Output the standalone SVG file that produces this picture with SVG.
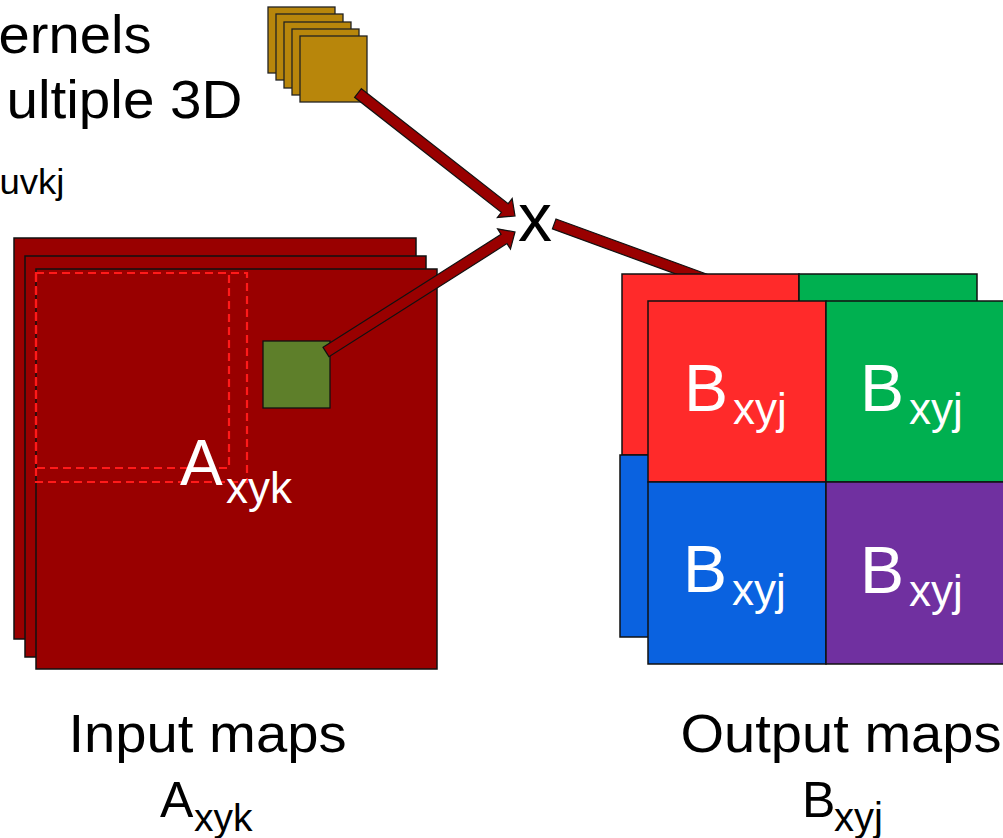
<svg xmlns="http://www.w3.org/2000/svg" width="1003" height="838" viewBox="0 0 1003 838">
<defs>
<style>
text{font-family:"Liberation Sans",Arial,sans-serif}
.lbl{fill:#000}
.wt{fill:#fff}
.kern{fill:#B8860B;stroke:#222;stroke-width:1.3}
.inmap{fill:#990000;stroke:#111;stroke-width:1.5}
.dash{fill:none;stroke:#FF1A1A;stroke-width:2.2;stroke-dasharray:8 5}
.conn{fill:#990000;stroke:#111;stroke-width:1.2;stroke-linejoin:miter}
.cell{stroke:#111;stroke-width:1.5}
</style>
</defs>
<rect x="0" y="0" width="1003" height="838" fill="#fff"/>

<g id="title-text">
<text class="lbl" x="-1.5" y="53" font-size="53" textLength="153" lengthAdjust="spacingAndGlyphs">ernels</text>
<text class="lbl" x="6.5" y="118" font-size="53" textLength="236" lengthAdjust="spacingAndGlyphs">ultiple 3D</text>
<text class="lbl" x="-0.5" y="194" font-size="35" textLength="65" lengthAdjust="spacingAndGlyphs">uvkj</text>
</g>

<g id="kernels">
<rect class="kern" x="268" y="7" width="67" height="66"/>
<rect class="kern" x="276" y="14" width="67" height="66"/>
<rect class="kern" x="284" y="22" width="67" height="66"/>
<rect class="kern" x="292" y="29" width="67" height="66"/>
<rect class="kern" x="300" y="36" width="67" height="66"/>
</g>

<g id="input-maps">
<rect class="inmap" x="14" y="238" width="402" height="401"/>
<rect class="inmap" x="25" y="256" width="401" height="401"/>
<rect class="inmap" x="36" y="269" width="401" height="400"/>
<rect class="dash" x="36" y="273" width="193" height="195"/>
<rect class="dash" x="36" y="273" width="211" height="209"/>
<text class="wt" x="180" y="485" font-size="64">A<tspan x="226" y="503" font-size="44">xyk</tspan></text>
</g>

<g id="input-patch">
<rect x="263" y="341" width="67" height="67" fill="#5E7F2A" stroke="#111" stroke-width="1.3"/>
</g>

<g id="connectors">
<polygon class="conn" points="361.39,88.67 508.16,203.65 512.17,198.53 515,216 497.37,217.43 501.38,212.31 354.61,97.33"/>
<polygon class="conn" points="323.05,347.36 501.08,234.33 497.60,228.84 515,232 510.46,249.10 506.98,243.61 328.95,356.64"/>
<polygon class="conn" points="556,219 712,276 708.4,285.9 552.4,228.9"/>
</g>

<g id="multiply">
<text class="lbl" x="535" y="241" font-size="68" text-anchor="middle">x</text>
</g>

<g id="output-maps">
<rect class="cell" x="622" y="274" width="177" height="181" fill="#FF2A2A"/>
<rect class="cell" x="799" y="274" width="178" height="181" fill="#00B050"/>
<rect class="cell" x="620" y="455" width="179" height="182" fill="#0A62E0"/>
<rect class="cell" x="648" y="301" width="178" height="181" fill="#FF2A2A"/>
<rect class="cell" x="826" y="301" width="178" height="181" fill="#00B050"/>
<rect class="cell" x="648" y="482" width="178" height="182" fill="#0A62E0"/>
<rect class="cell" x="826" y="482" width="178" height="182" fill="#7030A0"/>
<text class="wt" x="684" y="411" font-size="66">B<tspan x="733" y="424" font-size="44">xyj</tspan></text>
<text class="wt" x="860" y="411" font-size="66">B<tspan x="909" y="424" font-size="44">xyj</tspan></text>
<text class="wt" x="683" y="592" font-size="66">B<tspan x="732" y="605" font-size="44">xyj</tspan></text>
<text class="wt" x="860" y="593" font-size="66">B<tspan x="909" y="606" font-size="44">xyj</tspan></text>
</g>

<g id="input-label">
<text class="lbl" x="68.5" y="752" font-size="53" textLength="278" lengthAdjust="spacingAndGlyphs">Input maps</text>
<text class="lbl" x="160" y="817" font-size="50">A<tspan x="194" y="831" font-size="39">xyk</tspan></text>
</g>

<g id="output-label">
<text class="lbl" x="680.5" y="752" font-size="53" textLength="321" lengthAdjust="spacingAndGlyphs">Output maps</text>
<text class="lbl" x="802" y="817" font-size="50">B<tspan x="834" y="831" font-size="40">xyj</tspan></text>
</g>
</svg>
